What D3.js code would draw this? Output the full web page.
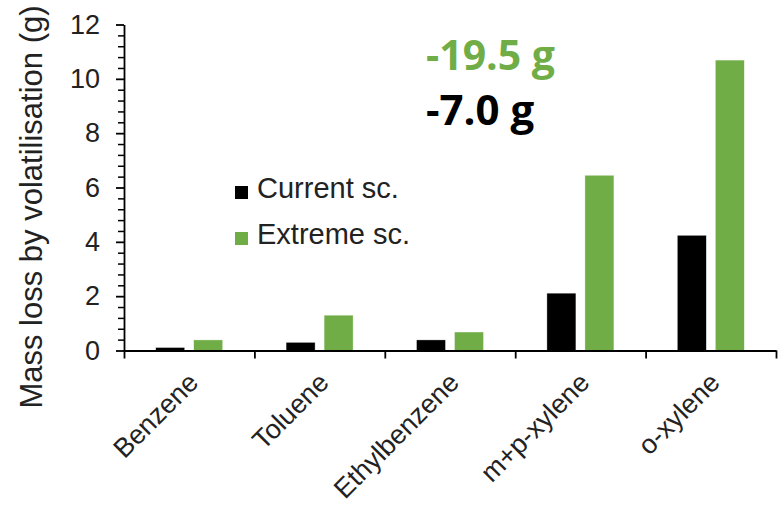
<!DOCTYPE html>
<html>
<head>
<meta charset="utf-8">
<script src="https://cdn.jsdelivr.net/npm/d3@7"></script>
<style>
  html, body { margin: 0; padding: 0; background: #fff; }
  svg { display: block; }
</style>
</head>
<body>
<svg id="chart" width="779" height="507"></svg>
<script>
const categories = ["Benzene", "Toluene", "Ethylbenzene", "m+p-xylene", "o-xylene"];
const seriesNames = ["Current sc.", "Extreme sc."];
const currentValues = [0.11, 0.30, 0.39, 2.11, 4.24];
const extremeValues = [0.39, 1.30, 0.68, 6.45, 10.69];
const yTicks = [0, 2, 4, 6, 8, 10, 12];
const annotations = ["-19.5 g", "-7.0 g"];
const yTitle = "Mass loss by volatilisation (g)";

const colors = { "Current sc.": "#000000", "Extreme sc.": "#70AD47" };
const seriesValues = { "Current sc.": currentValues, "Extreme sc.": extremeValues };

const svg = d3.select("#chart");
const plotLeft = 124, plotRight = 776, plotTop = 24.5, plotBottom = 350.5;

const x0 = d3.scaleBand().domain(categories).range([plotLeft, plotRight]).padding(0);
const x1 = d3.scaleBand().domain(seriesNames).range([31.7, 98.7]).paddingInner(0.237).paddingOuter(0);
const y = d3.scaleLinear().domain([0, 12]).range([plotBottom, plotTop]);

// bars
const groups = svg.append("g").selectAll("g")
  .data(categories).join("g")
  .attr("transform", d => `translate(${x0(d)},0)`);
groups.selectAll("rect")
  .data((c, i) => seriesNames.map(s => ({ s, v: seriesValues[s][i] })))
  .join("rect")
  .attr("x", d => x1(d.s))
  .attr("width", x1.bandwidth())
  .attr("y", d => y(d.v))
  .attr("height", d => y(0) - y(d.v))
  .attr("fill", d => colors[d.s])
  .attr("stroke", "#ffffff").attr("stroke-width", 0.6).attr("stroke-opacity", 0.6);

// y axis minor ticks
const minor = d3.range(0, 12.001, 0.4).filter(v => Math.abs(v / 2 - Math.round(v / 2)) > 0.01);
svg.append("g")
  .attr("transform", `translate(${plotLeft},0)`)
  .call(d3.axisLeft(y).tickValues(minor).tickSize(6).tickFormat(""))
  .call(g => g.select(".domain").remove())
  .call(g => g.selectAll("line").attr("stroke", "#000").attr("stroke-width", 1.5));

// y axis major
svg.append("g")
  .attr("transform", `translate(${plotLeft},0)`)
  .call(d3.axisLeft(y).tickValues(yTicks).tickSize(8).tickSizeOuter(0).tickPadding(16).tickFormat(d3.format("d")))
  .call(g => g.select(".domain").attr("stroke", "#000").attr("stroke-width", 1.8))
  .call(g => g.selectAll("line").attr("stroke", "#000").attr("stroke-width", 1.8))
  .call(g => g.selectAll("text")
    .attr("font-family", "'Liberation Sans', Arial, sans-serif")
    .attr("font-size", 27).attr("fill", "#222"));

// x axis
const boundaries = categories.map(c => x0(c)).concat([plotRight]);
svg.append("g")
  .attr("transform", `translate(0,${plotBottom})`)
  .call(d3.axisBottom(d3.scaleLinear().domain([plotLeft, plotRight]).range([plotLeft, plotRight]))
    .tickValues(boundaries).tickSize(8).tickSizeOuter(0).tickFormat(""))
  .call(g => g.select(".domain").attr("stroke", "#000").attr("stroke-width", 1.8))
  .call(g => g.selectAll("line").attr("stroke", "#000").attr("stroke-width", 1.8));

// category labels
svg.append("g").selectAll("text")
  .data(categories).join("text")
  .attr("transform", d => `translate(${x0(d) + x0.bandwidth() / 2 + 4},${plotBottom + 27}) rotate(-45)`)
  .attr("text-anchor", "end")
  .attr("dy", "0.35em")
  .attr("font-family", "'Liberation Sans', Arial, sans-serif")
  .attr("font-size", 27).attr("fill", "#222")
  .text(d => d);

// y title
svg.append("text")
  .attr("transform", `translate(42,${(7 + 407) / 2}) rotate(-90)`)
  .attr("text-anchor", "middle")
  .attr("font-family", "'Liberation Sans', Arial, sans-serif")
  .attr("font-size", 31).attr("fill", "#222")
  .text(yTitle);

// legend
const legend = svg.append("g");
seriesNames.forEach((s, i) => {
  const gy = 186 + i * 46;
  legend.append("rect").attr("x", 235).attr("y", gy).attr("width", 13).attr("height", 13).attr("fill", colors[s]);
  legend.append("text").attr("x", 257).attr("y", gy + 12).attr("font-family", "'Liberation Sans', Arial, sans-serif")
    .attr("font-size", 29).attr("fill", "#222").text(s);
});

// annotations
svg.append("text").attr("x", 426).attr("y", 70)
  .attr("font-family", "'Open Sans', sans-serif").attr("font-weight", "bold")
  .attr("font-size", 41).attr("fill", "#70AD47").text(annotations[0]);
svg.append("text").attr("x", 426).attr("y", 125)
  .attr("font-family", "'Open Sans', sans-serif").attr("font-weight", "bold")
  .attr("font-size", 42).attr("fill", "#000").text(annotations[1]);
</script>
</body>
</html>
